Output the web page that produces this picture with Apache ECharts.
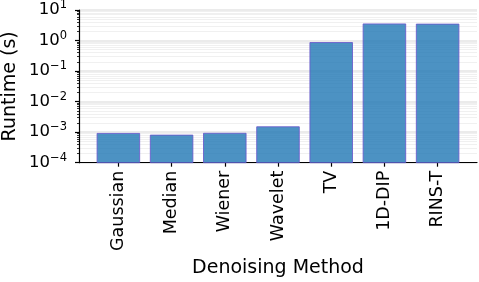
<!DOCTYPE html>
<html><head><meta charset="utf-8">
<script src="https://cdn.jsdelivr.net/npm/echarts@6/dist/echarts.min.js"></script>
<style>html,body{margin:0;padding:0;background:#fff}#c{width:479px;height:282px}</style>
</head><body><div id="c"></div>
<script>
const categories = ['Gaussian','Median','Wiener','Wavelet','TV','1D-DIP','RINS-T'];
const runtimes = [0.00091, 0.00080, 0.00092, 0.0015, 0.86, 3.5, 3.45];
const yTickExponents = [-4,-3,-2,-1,0,1];
const xTitle = 'Denoising Method';
const yTitle = 'Runtime (s)';

const minorLogs = [];
for (let n = -4; n < 1; n++) for (let k = 2; k <= 9; k++) minorLogs.push(n + Math.log10(k));

const FONT = 'DejaVu Sans';
const BAR_FRAC = 0.8;
const chart = echarts.init(document.getElementById('c'), null, {renderer:'canvas'});
chart.setOption({
  animation:false,
  grid:{left:79, right:2, top:10, bottom:119.3, containLabel:false, outerBoundsMode:'none'},
  xAxis:{
    type:'value', min:-0.74, max:6.74,
    name:xTitle, nameLocation:'middle', nameGap:96, nameMoveOverlap:false,
    nameTextStyle:{fontFamily:FONT, fontSize:19, color:'#000'},
    axisLine:{show:true, onZero:false, lineStyle:{color:'#000', width:1.2}},
    axisTick:{show:true, length:4, customValues:categories.map((c,i)=>i), lineStyle:{color:'#000', width:1.2}},
    axisLabel:{customValues:categories.map((c,i)=>i), rotate:90, margin:8,
      fontFamily:FONT, fontSize:17.5, color:'#000', formatter:v=>categories[Math.round(v)]},
    splitLine:{show:false}
  },
  yAxis:[{
    type:'log', logBase:10, min:1e-4, max:10,
    name:yTitle, nameLocation:'middle', nameGap:59, nameRotate:90, nameMoveOverlap:false,
    nameTextStyle:{fontFamily:FONT, fontSize:19, color:'#000'},
    axisLine:{show:true, onZero:false, lineStyle:{color:'#000', width:1.2}},
    axisTick:{show:true, length:4, lineStyle:{color:'#000', width:1.2}},
    axisLabel:{margin:12, fontFamily:FONT, color:'#000',
      formatter:v=>{const e=Math.round(Math.log10(v)); if(!yTickExponents.includes(e)) return ''; return '{b|10}{s|'+(e<0?'\u2212'+(-e):e)+'}';},
      rich:{b:{fontFamily:FONT, fontSize:16.5, color:'#000'}, s:{fontFamily:FONT, fontSize:11.5, color:'#000', padding:[0,0,10,0]}}},
    splitLine:{show:true, lineStyle:{color:'#e4e4e4', width:1.6}}
  },{
    type:'value', min:-4, max:1, position:'right', offset:-398,
    axisLine:{show:false, onZero:false},
    axisTick:{show:true, inside:true, length:2, customValues:minorLogs, lineStyle:{color:'#000', width:0.8}},
    axisLabel:{show:false},
    splitLine:{show:true, lineStyle:{color:'#ececec', width:0.8}}
  }],
  series:[{
    type:'custom', xAxisIndex:0, yAxisIndex:0, z:5,
    data:categories.map((c,i)=>[i, runtimes[i]]),
    encode:{x:0, y:1},
    renderItem:(params, api)=>{
      const i = api.value(0), v = api.value(1);
      const pL = api.coord([i - BAR_FRAC/2, v]);
      const pR = api.coord([i + BAR_FRAC/2, 1e-4]);
      return {type:'rect', shape:{x:pL[0], y:pL[1], width:pR[0]-pL[0], height:pR[1]-pL[1]},
        style:{fill:'rgba(31,119,180,0.8)', stroke:'rgba(106,90,205,0.85)', lineWidth:1}};
    }
  }]
});
</script></body></html>
